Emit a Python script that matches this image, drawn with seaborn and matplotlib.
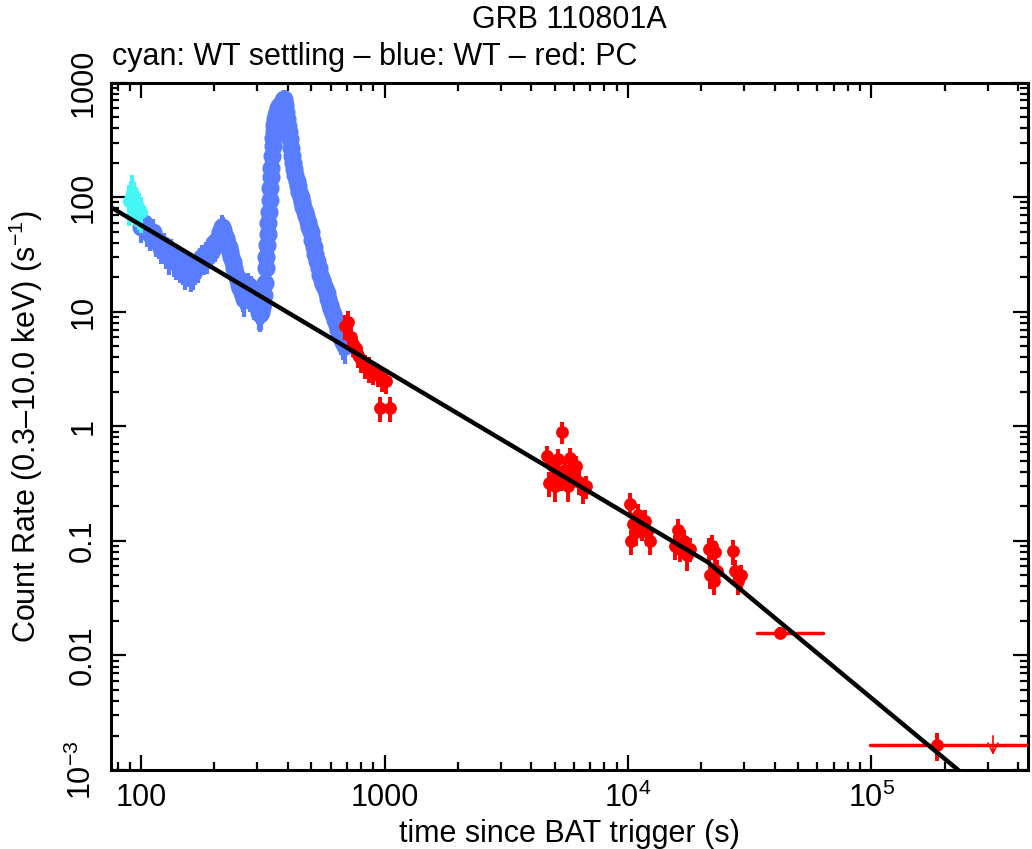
import numpy as np
import pandas as pd
import matplotlib
matplotlib.use("Agg")
import matplotlib.pyplot as plt
import seaborn as sns

# ---------------- data ----------------
# WT settling (cyan)
wts_t = [89, 90.5, 92, 93.5, 95, 96.5, 98, 99.5]
wts_rate = [92, 100, 110, 98, 90, 85, 80, 75]
wts_err = [36, 40, 45, 38, 34, 30, 28, 26]

# WT (blue)
wt_t = [100, 103, 106, 109, 112, 115, 118, 121, 124, 127, 130, 133, 136, 139,
        142, 145, 148, 151, 154, 157, 160,
        163, 166, 169, 172, 175, 178, 181, 184, 187, 190, 193, 196, 199, 202,
        205, 208, 211, 214, 217, 220, 223, 226, 229, 232, 235, 238, 241, 244,
        247, 250, 253, 256,
        259, 262, 265, 268, 271, 274, 277, 280, 283, 286, 289, 292, 295, 298,
        301, 304, 307, 310, 313, 316,
        319, 322, 325, 327, 329, 331, 333, 335, 337, 339, 341, 343, 345, 347,
        349, 351, 353, 355, 358, 361, 364,
        367, 370, 373, 376, 379, 382, 385, 388, 391, 394, 397, 400,
        404, 408, 412, 416, 420, 425, 430, 435, 440, 446, 452, 458, 464, 470,
        477, 484, 491, 498, 505, 512, 520, 528, 536, 544, 552, 560, 569, 578,
        587, 596, 605, 615, 625, 635, 645, 655, 665, 675, 685]
wt_rate = [55, 60, 52, 48, 50, 42, 40, 36, 38, 33, 30, 34, 28, 27,
           30, 25, 24, 22, 26, 23, 21,
           22, 24, 26, 25, 28, 30, 29, 32, 30, 34, 33, 36, 40, 38,
           42, 45, 50, 55, 52, 48, 44, 40, 37, 33, 30, 27, 24, 22,
           20, 19, 17, 16,
           15, 14, 13, 15, 16, 17, 15, 14, 16, 15, 13, 12, 14, 12,
           11, 10, 9.5, 10, 11, 12,
           14, 18, 24, 30, 38, 48, 60, 75, 95, 120, 150, 180, 230, 280,
           330, 380, 430, 480, 520, 560, 600,
           620, 580, 550, 600, 650, 700, 720, 680, 640, 560, 480, 420,
           370, 320, 270, 230, 200, 175, 155, 140, 125, 112, 100, 90, 82, 75,
           68, 61, 55, 50, 42, 37, 32, 28, 24, 21, 19, 17.5, 16, 14.5,
           13, 11.5, 10.5, 9.5, 8.5, 7.7, 7, 6.4, 5.9, 5.4, 5.0]
wt_err = [15, 16, 15, 14, 14, 12, 11, 10, 11, 9.5, 9, 9.5, 8, 8,
          8.5, 7, 7, 6.5, 7.5, 6.5, 6,
          6.5, 7, 7.5, 7, 8, 8.5, 8, 9, 8.5, 9.5, 9.5, 10, 11, 11,
          12, 13, 14, 15, 15, 13, 12, 11, 10, 9, 8.5, 7.5, 7, 6,
          5.5, 5.5, 5, 4.5,
          4.5, 4, 4, 4.5, 4.5, 5, 4.5, 4, 4.5, 4.5, 4, 3.5, 4, 3.5,
          3.2, 3, 2.8, 3, 3.2, 3.5,
          3.5, 4.5, 6, 7, 9, 11, 14, 17, 21, 26, 32, 38, 48, 58,
          68, 78, 88, 98, 105, 112, 120,
          125, 118, 112, 120, 130, 140, 145, 136, 128, 112, 97, 85,
          75, 65, 55, 47, 41, 36, 32, 29, 26, 23, 21, 19, 17, 16,
          14, 13, 12, 11, 9, 8, 7, 6.5, 5.8, 5, 4.6, 4.2, 3.8, 3.5,
          3.2, 2.9, 2.7, 2.5, 2.2, 2.0, 1.9, 1.8, 1.7, 1.6, 1.5]

# PC (red) detections
pc_t = [690, 710, 725, 740, 760, 780, 800, 830, 860, 900, 940, 980, 1010, 962, 1057,
        4650, 4750, 4900, 5000, 5150, 5300, 5370, 5500, 5650, 5800, 5950, 6100,
        6300, 6550, 6700,
        10200, 10500, 10300, 10800, 11000, 11400, 11800, 12000, 12300,
        15600, 16100, 16400, 17000, 17500, 18000,
        21500, 22200, 22800, 21800, 22600, 23300,
        27000, 27600, 28400, 29000,
        42200, 186000]
pc_rate = [7.5, 8.2, 6.0, 5.2, 4.8, 4.2, 3.8, 3.4, 3.2, 3.0, 2.8, 2.6, 2.5, 1.45, 1.45,
           0.55, 0.32, 0.45, 0.30, 0.52, 0.36, 0.90, 0.42, 0.30, 0.53, 0.38, 0.45,
           0.33, 0.28, 0.30,
           0.21, 0.14, 0.10, 0.12, 0.17, 0.13, 0.15, 0.12, 0.10,
           0.09, 0.125, 0.085, 0.10, 0.075, 0.085,
           0.085, 0.09, 0.08, 0.05, 0.045, 0.055,
           0.082, 0.055, 0.045, 0.05,
           0.0158, 0.00164]
pc_err = [1.8, 2.0, 1.5, 1.2, 1.1, 1.0, 0.9, 0.8, 0.8, 0.7, 0.6, 0.6, 0.6, 0.35, 0.35,
          0.12, 0.08, 0.10, 0.08, 0.12, 0.09, 0.20, 0.10, 0.08, 0.12, 0.09, 0.10,
          0.08, 0.07, 0.07,
          0.05, 0.035, 0.025, 0.03, 0.04, 0.03, 0.035, 0.03, 0.025,
          0.022, 0.03, 0.02, 0.025, 0.02, 0.02,
          0.02, 0.022, 0.02, 0.012, 0.011, 0.013,
          0.02, 0.013, 0.011, 0.012,
          0.002, 0.00045]
pc_tlo = [None] * 55 + [34000, 99000]
pc_thi = [None] * 55 + [63400, 270000]

# PC upper limit
ul_t = [316000]
ul_rate = [0.00164]
ul_tlo = [270000]
ul_thi = [600000]
ul_arrow_top = [0.0021]
ul_arrow_bot = [0.00128]

# best-fit broken power law (vertices)
model_t = [75, 21200, 230000]
model_rate = [82, 0.0655, 0.00098]

x_ticks = [100, 1000, 1e4, 1e5]
x_ticklabels = ['100', '1000', '10$^4$', '10$^5$']
y_ticks = [1e-3, 1e-2, 1e-1, 1, 10, 100, 1000]
y_ticklabels = ['10$^{-3}$', '0.01', '0.1', '1', '10', '100', '1000']

# ---------------- styling ----------------
sns.set_theme(style="ticks")
plt.rcParams['font.family'] = ['Liberation Sans', 'DejaVu Sans']
plt.rcParams['mathtext.fontset'] = 'custom'
plt.rcParams['mathtext.rm'] = 'Liberation Sans'
plt.rcParams['mathtext.it'] = 'Liberation Sans:italic'
plt.rcParams['mathtext.bf'] = 'Liberation Sans:bold'

CYAN = '#44F6F6'
BLUE = '#587EFF'
RED = '#FF0000'
FS = 22

fig = plt.figure(figsize=(10.32, 8.49), dpi=100)
ax = fig.add_axes([0.10727, 0.09305, 0.88885, 0.80954])

wts = pd.DataFrame({'t': wts_t, 'rate': wts_rate, 'err': wts_err})
wt = pd.DataFrame({'t': wt_t, 'rate': wt_rate, 'err': wt_err})
pc = pd.DataFrame({'t': pc_t, 'rate': pc_rate, 'err': pc_err})

# error bars
ax.errorbar(wt['t'], wt['rate'], yerr=wt['err'], fmt='none', ecolor=BLUE,
            elinewidth=3, zorder=2)
ax.errorbar(wts['t'], wts['rate'], yerr=wts['err'], fmt='none', ecolor=CYAN,
            elinewidth=3, zorder=3.5)
ax.errorbar(pc['t'], pc['rate'], yerr=pc['err'], fmt='none', ecolor=RED,
            elinewidth=2.8, zorder=4)
for t, r, lo, hi in zip(pc_t, pc_rate, pc_tlo, pc_thi):
    if lo is not None:
        ax.plot([lo, hi], [r, r], color=RED, lw=2.5, zorder=4)
for t, r, lo, hi, a, b in zip(ul_t, ul_rate, ul_tlo, ul_thi, ul_arrow_top, ul_arrow_bot):
    ax.plot([lo, hi], [r, r], color=RED, lw=2.5, zorder=4)
    ax.annotate('', xy=(t, b), xytext=(t, a),
                arrowprops=dict(arrowstyle='->', color=RED, lw=1.2,
                                mutation_scale=18), zorder=4)

# markers
sns.scatterplot(data=wt, x='t', y='rate', ax=ax, color=BLUE, s=170,
                linewidth=0, zorder=3, legend=False)
sns.scatterplot(data=wts, x='t', y='rate', ax=ax, color=CYAN, s=90,
                linewidth=0, zorder=3.6, legend=False)
sns.scatterplot(data=pc, x='t', y='rate', ax=ax, color=RED, s=85,
                linewidth=0, zorder=5, legend=False)

# model
sns.lineplot(x=model_t, y=model_rate, ax=ax, color='black', lw=3.2,
             zorder=10, estimator=None, sort=False)

ax.set_xscale('log')
ax.set_yscale('log')
ax.set_xlim(75, 4.4e5)
ax.set_ylim(1e-3, 1e3)

ax.xaxis.set_major_locator(matplotlib.ticker.FixedLocator(x_ticks))
ax.xaxis.set_minor_locator(matplotlib.ticker.LogLocator(base=10, subs=np.arange(2, 10)))
ax.yaxis.set_major_locator(matplotlib.ticker.FixedLocator(y_ticks))
ax.yaxis.set_minor_locator(matplotlib.ticker.LogLocator(base=10, subs=np.arange(2, 10)))
ax.xaxis.set_minor_formatter(matplotlib.ticker.NullFormatter())
ax.yaxis.set_minor_formatter(matplotlib.ticker.NullFormatter())
ax.set_xticklabels(x_ticklabels, fontsize=FS)
ax.set_yticklabels(y_ticklabels, fontsize=FS, rotation=90, va='center')

ax.tick_params(which='both', direction='in', top=True, right=True,
               color='black', width=1.6, labelcolor='black')
ax.tick_params(which='major', length=11, pad=9)
ax.tick_params(which='minor', length=6)
for s in ax.spines.values():
    s.set_linewidth(2.2)
    s.set_color('black')

ax.set_xlabel('time since BAT trigger (s)', fontsize=FS, color='black', labelpad=4)
ax.set_ylabel('Count Rate (0.3\u201310.0 keV) (s$^{-1}$)', fontsize=FS,
              color='black', labelpad=16)

ax.text(0.5, 1 - 20 / 849, 'GRB 110801A', ha='center', va='center',
        fontsize=FS, color='black',
        transform=matplotlib.transforms.blended_transform_factory(ax.transAxes, fig.transFigure))
fig.text(112 / 1032, 1 - 57 / 849, 'cyan: WT settling \u2013 blue: WT \u2013 red: PC',
         ha='left', va='center', fontsize=FS, color='black')

fig.savefig('out.png', dpi=100)
